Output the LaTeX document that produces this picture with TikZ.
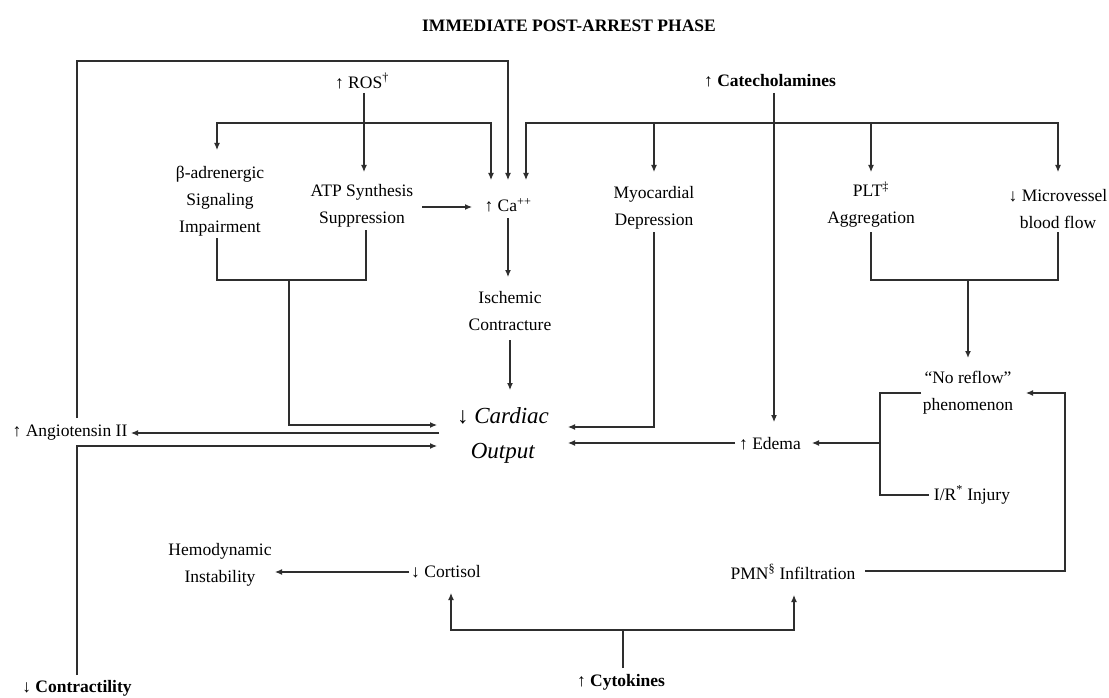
\documentclass[tikz,border=0pt]{standalone}
\usepackage{fontspec}
\setmainfont{Liberation Serif}
\usetikzlibrary{arrows.meta,calc}
\begin{document}
\begin{tikzpicture}[x=1pt,y=-1pt,
  txt/.style={font=\fontsize{17.5}{27}\selectfont, align=center, inner sep=0pt},
  boldtxt/.style={txt, font=\fontsize{17.5}{27}\selectfont\bfseries},
  ln/.style={line width=1.1pt, draw=black!82},
  barline/.style={line width=2.4pt, draw=black!82, line cap=rect},
  thickln/.style={line width=2pt, draw=black!82},
  tip/.style={-{Latex[length=7pt,width=6pt]}},
  twotip/.style={{Latex[length=7pt,width=6pt]}-{Latex[length=7pt,width=6pt]}}]
\useasboundingbox[fill=white] (0,0) rectangle (1109,698);

% ---- nodes ----
\node[boldtxt] (title) at (569,26) {IMMEDIATE POST-ARREST PHASE};
\node[txt] (ros) at (362,81) {↑ ROS\textsuperscript{†}};
\node[boldtxt] (cat) at (770,81) {↑ Catecholamines};
\node[txt] (beta) at (220,201) {β-adrenergic\\Signaling\\Impairment};
\node[txt] (atp) at (362,206) {ATP Synthesis\\Suppression};
\node[txt] (ca) at (508,205) {↑ Ca\textsuperscript{++}};
\node[txt] (myo) at (654,208) {Myocardial\\Depression};
\node[txt] (plt) at (871,205) {PLT\textsuperscript{‡}\\Aggregation};
\node[txt] (micro) at (1058,209) {↓ Microvessel\\blood flow};
\node[txt] (isch) at (510,311) {Ischemic\\Contracture};
\node[txt, font=\fontsize{23}{35}\selectfont] (co) at (503,435) {↓ \textit{Cardiac}\\\textit{Output}};
\node[txt] (ang) at (70,433) {↑ Angiotensin II};
\node[txt] (edema) at (770,444) {↑ Edema};
\node[txt] (noreflow) at (968,393) {“No reflow”\\phenomenon};
\node[txt] (ir) at (972,495) {I/R\textsuperscript{*} Injury};
\node[txt] (hemo) at (220,565) {Hemodynamic\\Instability};
\node[txt] (cort) at (446,572) {↓ Cortisol};
\node[txt] (pmn) at (793,572) {PMN\textsuperscript{§} Infiltration};
\node[boldtxt] (cyto) at (621,682) {↑ Cytokines};
\node[boldtxt] (contr) at (77,688) {↓ Contractility};

% ---- junction coordinates ----
\coordinate (lb1) at (217,123);
\coordinate (lb2) at (491,123);
\coordinate (rb1) at (526,123);
\coordinate (rb2) at (654,123);
\coordinate (rb3) at (871,123);
\coordinate (rb4) at (1058,123);
\coordinate (bj) at (289,280);
\coordinate (pj) at (968,280);
\coordinate (nj) at (880,443);
\coordinate (cj) at (623,630);

% ---- connectors ----
% Angiotensin II loop to Ca++
\draw[ln,tip] ($(ang.center)+(7,-15)$) -- (77,61) -- (508,61) -- ($(ca.center)+(0,-25)$);
% Contractility to Cardiac Output
\draw[ln,tip] ($(contr.center)+(0,-13)$) -- (77,446) -- ($(co.center)+(-66,11)$);
% Cardiac Output to Angiotensin II
\draw[ln,tip] ($(co.center)+(-64,-2)$) -- ($(ang.center)+(61,0)$);

% left bar
\draw[barline] (lb1) -- (lb2);
\draw[ln,tip] (lb1) -- ($(beta.center)+(-3,-51)$);
\draw[ln,tip] (lb2) -- ($(ca.center)+(-17,-25)$);
% right bar
\draw[barline] (rb1) -- (rb4);
\draw[ln,tip] (rb1) -- ($(ca.center)+(18,-25)$);
\draw[ln,tip] (rb2) -- ($(myo.center)+(0,-36)$);
\draw[ln,tip] (rb3) -- ($(plt.center)+(0,-33)$);
\draw[ln,tip] (rb4) -- ($(micro.center)+(0,-37)$);

% ROS to ATP
\draw[ln,tip] ($(ros.center)+(2,12)$) -- ($(atp.center)+(2,-34)$);
% Catecholamines to Edema
\draw[ln,tip] ($(cat.center)+(4,12)$) -- ($(edema.center)+(4,-22)$);
% ATP to Ca
\draw[ln,tip] ($(atp.center)+(60,1)$) -- ($(ca.center)+(-36,2)$);
% Ca to Ischemic
\draw[ln,tip] ($(ca.center)+(0,13)$) -- ($(isch.center)+(-2,-34)$);
% Ischemic to Cardiac Output
\draw[ln,tip] ($(isch.center)+(0,29)$) -- ($(co.center)+(7,-45)$);
% beta / ATP bracket to Cardiac Output
\draw[ln] ($(beta.center)+(-3,37)$) -- (217,280) -- (366,280) -- ($(atp.center)+(4,24)$);
\draw[ln,tip] (bj) -- (289,425) -- ($(co.center)+(-66,-10)$);
% Myocardial Depression to Cardiac Output
\draw[ln,tip] ($(myo.center)+(0,24)$) -- (654,427) -- ($(co.center)+(65,-8)$);
% Edema to Cardiac Output
\draw[ln,tip] ($(edema.center)+(-35,-1)$) -- ($(co.center)+(65,8)$);
% PLT / Microvessel bracket to No reflow
\draw[ln] ($(plt.center)+(0,27)$) -- (871,280) -- (1058,280) -- ($(micro.center)+(0,23)$);
\draw[thickln,tip] (pj) -- ($(noreflow.center)+(0,-35)$);
% No reflow / I/R bracket to Edema
\draw[ln] ($(noreflow.center)+(-47,0)$) -- (880,393) -- (880,495) -- ($(ir.center)+(-43,0)$);
\draw[ln,tip] (nj) -- ($(edema.center)+(42,-1)$);
% PMN to No reflow
\draw[ln,tip] ($(pmn.center)+(72,-1)$) -- (1065,571) -- (1065,393) -- ($(noreflow.center)+(58,0)$);
% Cytokines
\draw[ln] ($(cyto.center)+(2,-14)$) -- (cj);
\draw[ln,twotip] ($(cort.center)+(5,21)$) -- (451,630) -- (794,630) -- ($(pmn.center)+(1,23)$);
% Cortisol to Hemodynamic Instability
\draw[ln,tip] ($(cort.center)+(-37,0)$) -- ($(hemo.center)+(55,7)$);
\end{tikzpicture}
\end{document}
